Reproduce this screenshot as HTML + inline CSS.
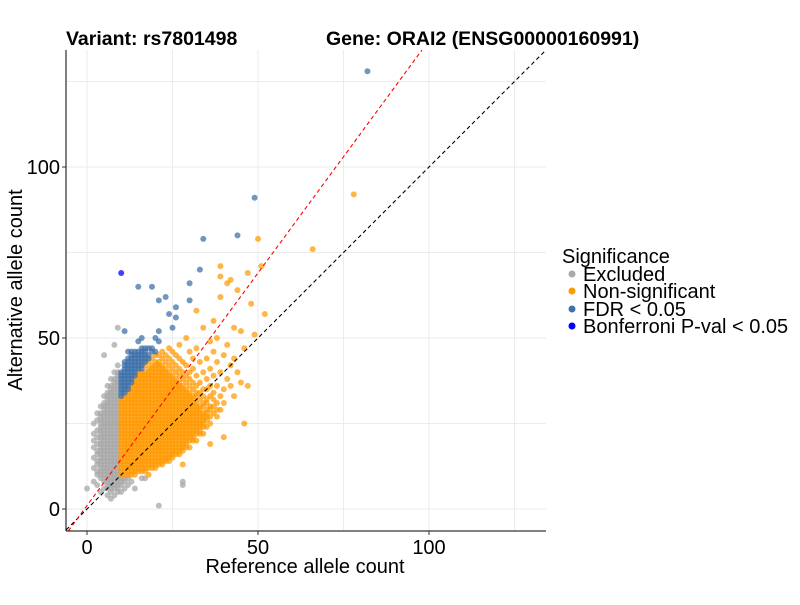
<!DOCTYPE html>
<html><head><meta charset="utf-8"><style>
body{margin:0;background:#fff;}
svg text{font-family:"Liberation Sans",Arial,sans-serif;}
</style></head><body>
<svg id="chart" width="800" height="600" xmlns="http://www.w3.org/2000/svg">
<rect width="800" height="600" fill="#fff"/>
<g id="grid"></g>
<g id="points"></g>
<g id="lines"></g>
<line x1="66" y1="50" x2="66" y2="531" stroke="#000" stroke-width="1"/>
<line x1="66" y1="531" x2="546" y2="531" stroke="#000" stroke-width="1"/>
<g id="ticks"></g>
<text x="66" y="45" font-size="19.5" font-weight="bold">Variant: rs7801498</text>
<text x="326" y="45" font-size="19.5" font-weight="bold">Gene: ORAI2 (ENSG00000160991)</text>
<text x="305" y="573" font-size="20" text-anchor="middle">Reference allele count</text>
<text transform="translate(22,290) rotate(-90)" font-size="20" text-anchor="middle">Alternative allele count</text>
<g>
<text x="562" y="263" font-size="20">Significance</text>
<g><circle cx="572" cy="274" r="3.5" fill="#aaaaaa"/><text x="583" y="281" font-size="20">Excluded</text></g>
<g><circle cx="572" cy="291" r="3.5" fill="#ff9900"/><text x="583" y="298" font-size="20">Non-significant</text></g>
<g><circle cx="572" cy="309" r="3.5" fill="#3f72aa"/><text x="583" y="316" font-size="20">FDR &lt; 0.05</text></g>
<g><circle cx="572" cy="326" r="3.5" fill="#0000ff"/><text x="583" y="333" font-size="20">Bonferroni P-val &lt; 0.05</text></g>
</g>
</svg>
<script>
const xTicks=[0,50,100];
const yTicks=[0,50,100];
const gridVals=[0,25,50,75,100,125];
// columns: [refCount, [altCounts...]]
const excludedCols=[
[0,[6]],[2,[8,12,15,18,20,22,25]],[3,[7,10,11,13,14,16,17,19,21,23,26,28]],
[4,[5,9,10,11,12,13,14,15,16,17,18,19,20,21,22,23,24,25,26,27,28,30]],
[5,[6,8,9,10,11,12,13,14,15,16,17,18,19,20,21,22,23,24,25,26,27,28,29,30,31,33,45]],
[6,[4,6,7,8,9,10,11,12,13,14,15,16,17,18,19,20,21,22,23,24,25,26,27,28,29,30,31,32,33,34,36]],
[7,[3,5,6,7,8,9,10,11,12,13,14,15,16,17,18,19,20,21,22,23,24,25,26,27,28,29,30,31,32,33,34,35,36,38]],
[8,[4,6,7,8,9,10,11,12,13,14,15,16,17,18,19,20,21,22,23,24,25,26,27,28,29,30,31,32,33,34,35,36,37,38,40,48]],
[9,[5,6,7,8,9,10,11,12,13,14,15,16,17,18,19,20,21,22,23,24,25,26,27,28,29,30,31,32,33,34,35,36,37,38,39,40,42,53]],
[10,[5,7,8,9]],[11,[6,8,9]],[12,[7,9]],[13,[8]],[14,[6]],[16,[9]],[17,[9]],[21,[1]],[28,[7,8]]
];
const nonsigCols=[
[10,[10,11,12,13,14,15,16,17,18,19,20,21,22,23,24,25,26,27,28,29,30,31,32]],
[11,[10,11,12,13,14,15,16,17,18,19,20,21,22,23,24,25,26,27,28,29,30,31,32,33]],
[12,[10,11,12,13,14,15,16,17,18,19,20,21,22,23,24,25,26,27,28,29,30,31,32,33,34]],
[13,[10,11,12,13,14,15,16,17,18,19,20,21,22,23,24,25,26,27,28,29,30,31,32,33,34,35,36]],
[14,[10,11,12,13,14,15,16,17,18,19,20,21,22,23,24,25,26,27,28,29,30,31,32,33,34,35,36,37,38]],
[15,[11,12,13,14,15,16,17,18,19,20,21,22,23,24,25,26,27,28,29,30,31,32,33,34,35,36,37,38,39,40]],
[16,[11,12,13,14,15,16,17,18,19,20,21,22,23,24,25,26,27,28,29,30,31,32,33,34,35,36,37,38,39,40]],
[17,[11,12,13,14,15,16,17,18,19,20,21,22,23,24,25,26,27,28,29,30,31,32,33,34,35,36,37,38,39,40,42]],
[18,[10,12,13,14,15,16,17,18,19,20,21,22,23,24,25,26,27,28,29,30,31,32,33,34,35,36,37,38,39,40,41,43]],
[19,[12,13,14,15,16,17,18,19,20,21,22,23,24,25,26,27,28,29,30,31,32,33,34,35,36,37,38,39,40,41,42,44]],
[20,[12,13,14,15,16,17,18,19,20,21,22,23,24,25,26,27,28,29,30,31,32,33,34,35,36,37,38,39,40,41,42,43,45]],
[21,[13,14,15,16,17,18,19,20,21,22,23,24,25,26,27,28,29,30,31,32,33,34,35,36,37,38,39,40,41,42,43,45]],
[22,[13,14,15,16,17,18,19,20,21,22,23,24,25,26,27,28,29,30,31,32,33,34,35,36,37,38,39,40,41,42,44,46]],
[23,[14,15,16,17,18,19,20,21,22,23,24,25,26,27,28,29,30,31,32,33,34,35,36,37,38,39,40,41,43,45]],
[24,[14,15,16,17,18,19,20,21,22,23,24,25,26,27,28,29,30,31,32,33,34,35,36,37,38,39,40,42,44,47]],
[25,[15,16,17,18,19,20,21,22,23,24,25,26,27,28,29,30,31,32,33,34,35,36,37,38,39,41,43,46]],
[26,[16,17,18,19,20,21,22,23,24,25,26,27,28,29,30,31,32,33,34,35,36,37,38,40,42,45]],
[27,[16,17,18,19,20,21,22,23,24,25,26,27,28,29,30,31,32,33,34,35,36,37,39,41,44,48]],
[28,[13,17,18,19,20,21,22,23,24,25,26,27,28,29,30,31,32,33,34,35,36,38,40,43]],
[29,[18,19,20,21,22,23,24,25,26,27,28,29,30,31,32,33,34,35,37,39,42,50]],
[30,[18,20,21,22,23,24,25,26,27,28,29,30,31,32,33,34,36,38,40,46]],
[31,[20,21,22,23,24,25,26,27,28,29,30,31,32,33,35,37,41,44]],
[32,[20,22,23,24,25,26,27,28,29,30,31,33,34,36,39,47,58]],
[33,[22,23,24,25,26,27,28,29,30,32,34,37,43]],
[34,[22,24,25,26,27,28,30,31,33,35,40,53]],
[35,[24,26,27,28,29,31,32,35,38,44]],
[36,[19,25,27,29,30,33,36,41,49]],
[37,[28,30,32,34,39,46,55]],
[38,[27,29,31,36,43,50]],
[39,[29,33,40,62,68,71]],[40,[21,31,35,45]],[41,[38,48,66]],[42,[36,42,67]],
[43,[33,44,53]],[44,[40,64]],[45,[37,52]],[46,[25,47]],[47,[36,69]],[48,[60]],
[49,[51]],[50,[79]],[51,[71]],[52,[57]],[66,[76]],[78,[92]]
];
const fdrCols=[
[10,[33,34,35,36,37,38,39,40]],[11,[34,35,36,37,38,39,40,41,42,43,52]],
[12,[35,36,37,38,39,40,41,42,43,44,46]],[13,[37,38,39,40,41,42,43,44,45,46]],
[14,[39,40,41,42,43,44,45,46]],[15,[41,42,43,44,45,46,49,65]],[16,[41,42,43,44,45,46,47,50]],
[17,[43,44,45,46,47]],[18,[44,45,47]],[19,[46,47,65]],[20,[46,50]],[21,[49,52,61]],
[23,[62]],[24,[57]],[25,[53]],[26,[56,59]],[30,[61,66]],[33,[70]],[34,[79]],[44,[80]],[49,[91]],[82,[128]]
];
const bonfCols=[[10,[69]]];

const X0=87, Y0=509, S=3.42;
const xs=v=>X0+v*S, ys=v=>Y0-v*S;
const NS="http://www.w3.org/2000/svg";
const mk=(t,a)=>{const e=document.createElementNS(NS,t);for(const k in a)e.setAttribute(k,a[k]);return e;};

const grid=document.getElementById('grid');
gridVals.forEach(v=>{
  const gx=mk('line',{x1:xs(v),x2:xs(v),y1:50,y2:531,stroke:'#ebebeb','stroke-width':1});
  
  
  grid.appendChild(gx);
  const gy=mk('line',{x1:66,x2:546,y1:ys(v),y2:ys(v),stroke:'#ebebeb','stroke-width':1});
  
  
  grid.appendChild(gy);
});

const pts=document.getElementById('points');
function drawCols(cols,color,op,name){
  cols.forEach(([x,ysArr])=>ysArr.forEach(y=>{
    const c=mk('circle',{cx:xs(x),cy:ys(y),r:3,fill:color,'fill-opacity':op});
    
    
    pts.appendChild(c);
  }));
}
drawCols(excludedCols,'#a8a8a8',0.75,'point-excluded');
drawCols(nonsigCols,'#ff9900',0.72,'point-non-significant');
drawCols(fdrCols,'#3a6ea8',0.72,'point-fdr');
drawCols(bonfCols,'#0000ff',0.75,'point-bonferroni');

const lines=document.getElementById('lines');
const xmin=-6.1,xmax=134.2,ymin=-6.4,ymax=134.2;
function clipLine(m,b,color,name){
  let x1=Math.max(xmin,(ymin-b)/m), x2=Math.min(xmax,(ymax-b)/m);
  const l=mk('line',{x1:xs(x1),y1:ys(m*x1+b),x2:xs(x2),y2:ys(m*x2+b),stroke:color,'stroke-width':1.1,'stroke-dasharray':'4,3'});
  
  
  lines.appendChild(l);
}
clipLine(1,0,'#000','identity-line');
clipLine(1.36,1,'#ff0000','fit-line');

const ticks=document.getElementById('ticks');
xTicks.forEach(v=>{
  const t=mk('line',{x1:xs(v),x2:xs(v),y1:531,y2:535,stroke:'#333'});
  
  
  ticks.appendChild(t);
  const tx=mk('text',{x:xs(v),y:554,'font-size':20,'text-anchor':'middle',fill:'#000'});
  tx.textContent=v;
  
  
  ticks.appendChild(tx);
});
yTicks.forEach(v=>{
  const t=mk('line',{x1:62,x2:66,y1:ys(v),y2:ys(v),stroke:'#333'});
  
  
  ticks.appendChild(t);
  const tx=mk('text',{x:60,y:ys(v)+7,'font-size':20,'text-anchor':'end',fill:'#000'});
  tx.textContent=v;
  
  
  ticks.appendChild(tx);
});
</script>
</body></html>
